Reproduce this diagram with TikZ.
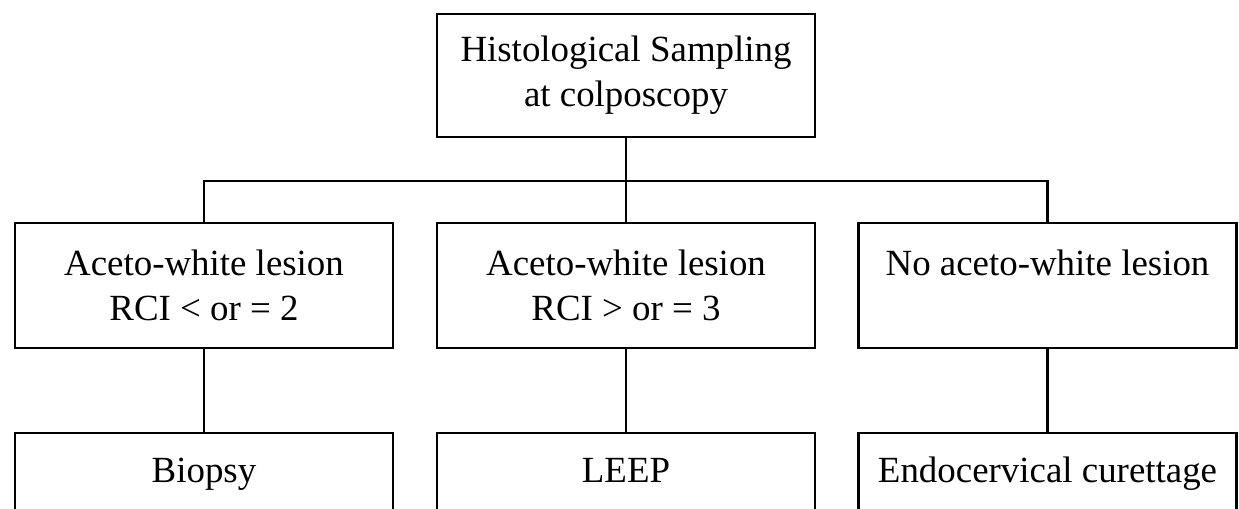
\documentclass[tikz,border=0pt]{standalone}
\usepackage{fontspec}
\setmainfont{Liberation Serif}
\usetikzlibrary{positioning}

\begin{document}
\begin{tikzpicture}[x=0.02cm,y=-0.02cm,
  stepbox/.style={draw,line width=1.4pt,inner sep=0pt,align=center,
    minimum width=7.56cm,minimum height=2.5cm,
    font=\fontsize{21}{25.6}\selectfont},
  endbox/.style={stepbox,minimum height=1.8cm,text height=0.7em,text depth=0.22em},
  link/.style={line width=1.3pt}]
\path[use as bounding box,clip] (0,0) rectangle (1239,509);
\node[stepbox,minimum height=2.46cm] (sampling) at (626,75.5) {Histological Sampling\\at colposcopy};
\node[stepbox] (lowrci) at (204,285.5) {Aceto-white lesion\\RCI < or = 2};
\node[stepbox] (highrci) at (626,285.5) {Aceto-white lesion\\RCI > or = 3};
\node[stepbox] (nolesion) at (1047.5,285.5) {No aceto-white lesion\\\mbox{}};
\node[endbox] (biopsy) at (204,478) {Biopsy};
\node[endbox] (leep) at (626,478) {LEEP};
\node[endbox] (ecc) at (1047.5,478) {Endocervical curettage};
\coordinate (bar) at (626,181);
% branches
\draw[link] (sampling) -- (highrci);
\draw[link] (lowrci) -- (lowrci.north |- bar) -- (nolesion.north |- bar) -- (nolesion);
\draw[link] (lowrci) -- (biopsy);
\draw[link] (highrci) -- (leep);
\draw[link] (nolesion) -- (ecc);
\end{tikzpicture}
\end{document}
